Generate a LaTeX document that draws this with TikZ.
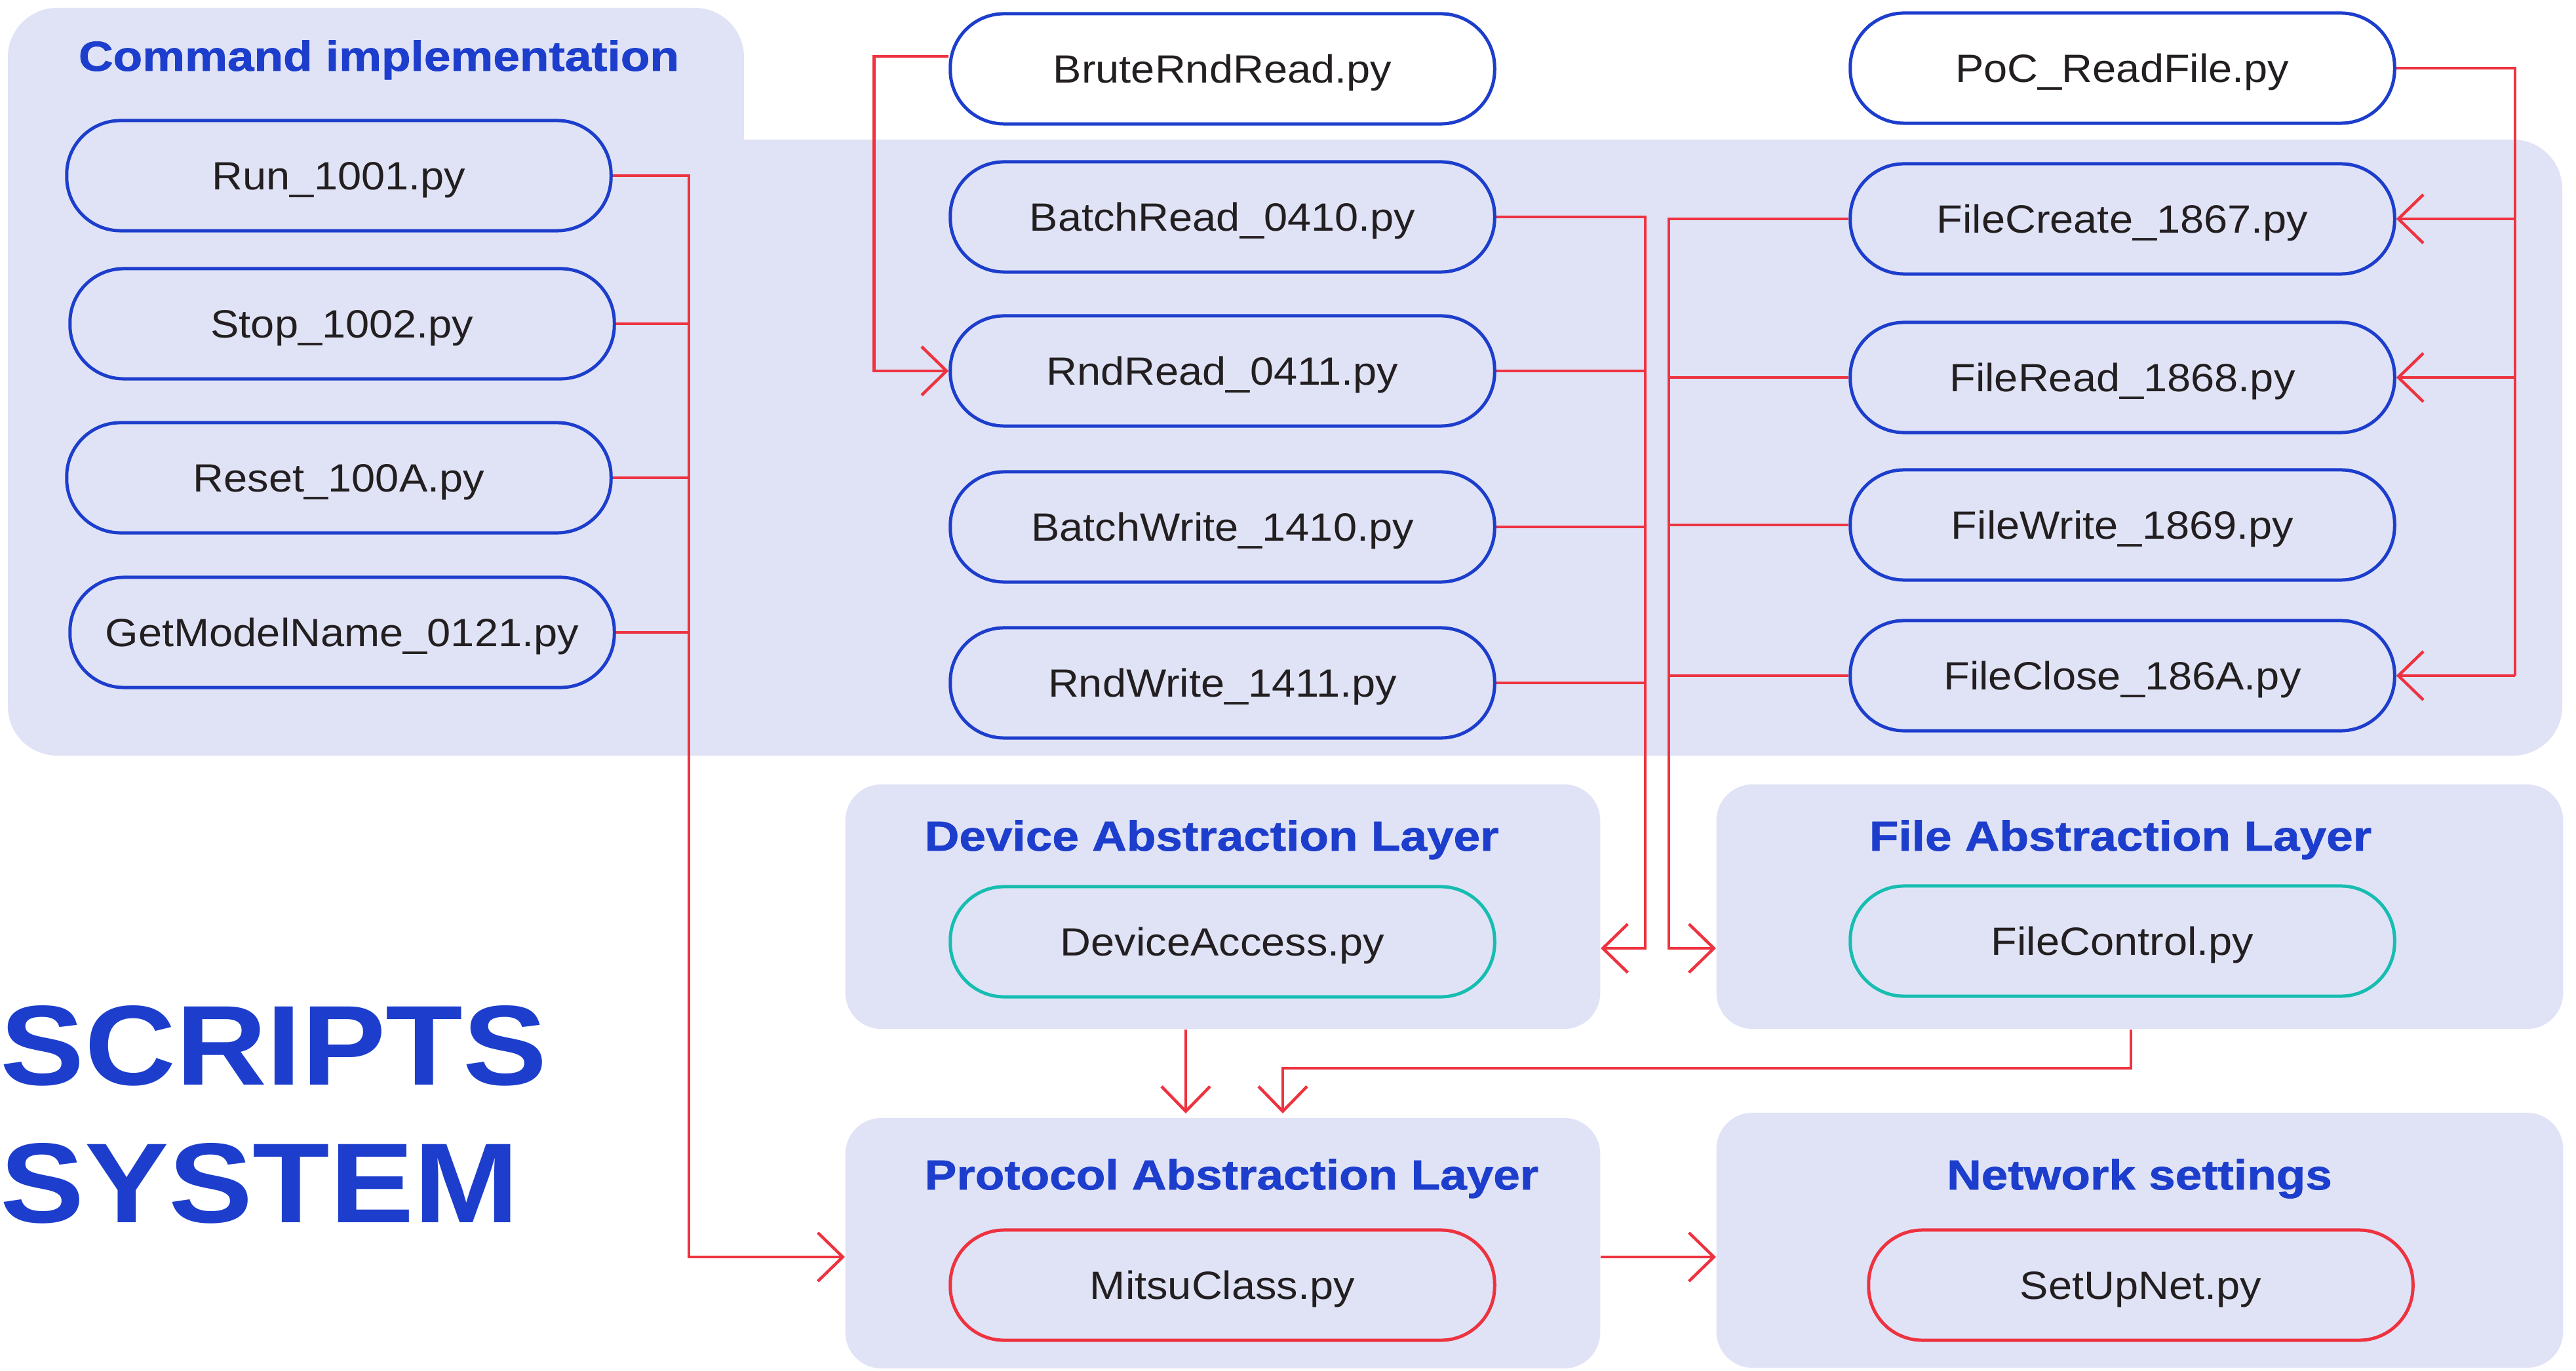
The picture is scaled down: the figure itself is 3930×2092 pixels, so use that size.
\documentclass[tikz,border=0pt]{standalone}
\usepackage{fontspec}
\usetikzlibrary{arrows.meta}

\newfontfamily\pillfont[FakeStretch=1.08]{Liberation Sans}
\newfontfamily\headfont[FakeStretch=1.14,FakeBold=1.2]{Liberation Sans}
\newfontfamily\bigfont[FakeStretch=1.11]{Liberation Sans}

\definecolor{panelfill}{RGB}{224,227,246}
\definecolor{inkblue}{RGB}{29,62,204}
\definecolor{tealline}{RGB}{23,189,176}
\definecolor{wirered}{RGB}{238,51,64}
\definecolor{ink}{RGB}{35,31,32}

\tikzset{
  pill/.style={draw=inkblue, line width=0.05cm, rounded corners=0.82cm,
    minimum width=8.3cm, minimum height=1.68cm, fill=panelfill, text=ink,
    font={\pillfont\fontsize{17.1pt}{20pt}\selectfont},
    text height=12.2pt, text depth=0pt, inner sep=0pt},
  whitepill/.style={pill, fill=white},
  tealpill/.style={pill, draw=tealline},
  redpill/.style={pill, draw=wirered},
  panelbox/.style={fill=panelfill, rounded corners=0.55cm, inner sep=0pt},
  headtitle/.style={text=inkblue, inner sep=0pt,
    font={\headfont\bfseries\fontsize{18.2pt}{22pt}\selectfont}},
  bigtitle/.style={text=inkblue, inner sep=0pt, anchor=base west,
    font={\bigfont\bfseries\fontsize{49.3pt}{60pt}\selectfont}},
  wire/.style={draw=wirered, line width=0.045cm},
  >={Straight Barb[length=0.38cm,width=0.74cm]}
}

\begin{document}
\begin{tikzpicture}[x=0.01cm, y=-0.01cm]
\useasboundingbox (0,0) rectangle (3930,2092);

% Command implementation panel: tab plus body
\fill[panelfill, rounded corners=0.75cm] (12,12) rectangle (1135,420);
\fill[panelfill, rounded corners=0.75cm] (12,213) rectangle (3909,1153);
\node[headtitle, anchor=base] (cmdtitle) at (578,108) {Command implementation};

% Layer panels
\node[panelbox, minimum width=11.51cm, minimum height=3.73cm] (devpanel) at (1865.5,1383.5) {};
\node[panelbox, minimum width=12.91cm, minimum height=3.73cm] (filepanel) at (3264.5,1383.5) {};
\node[panelbox, minimum width=11.51cm, minimum height=3.82cm] (protopanel) at (1865.5,1897) {};
\node[panelbox, minimum width=12.91cm, minimum height=3.89cm] (netpanel) at (3264.5,1892.5) {};

\node[headtitle, anchor=base west] (devtitle) at (1410,1298) {Device Abstraction Layer};
\node[headtitle, anchor=base west] (prototitle) at (1410,1815) {Protocol Abstraction Layer};
\node[headtitle, anchor=base] (filetitle) at (3235,1298) {File Abstraction Layer};
\node[headtitle, anchor=base] (nettitle) at (3264,1815) {Network settings};

% Big heading
\node[bigtitle] (scripts) at (0,1655) {SCRIPTS};
\node[bigtitle] (system) at (0,1865) {SYSTEM};

% Command scripts
\node[pill] (run) at (517,268) {Run\_1001.py};
\node[pill] (stop) at (522,494) {Stop\_1002.py};
\node[pill] (reset) at (517,729) {Reset\_100A.py};
\node[pill] (model) at (522,965) {GetModelName\_0121.py};

\node[whitepill] (brute) at (1865,105) {BruteRndRead.py};
\node[pill] (batchread) at (1865,331) {BatchRead\_0410.py};
\node[pill] (rndread) at (1865,566) {RndRead\_0411.py};
\node[pill] (batchwrite) at (1865,804) {BatchWrite\_1410.py};
\node[pill] (rndwrite) at (1865,1042) {RndWrite\_1411.py};

\node[whitepill] (poc) at (3238,104) {PoC\_ReadFile.py};
\node[pill] (filecreate) at (3238,334) {FileCreate\_1867.py};
\node[pill] (fileread) at (3238,576) {FileRead\_1868.py};
\node[pill] (filewrite) at (3238,801) {FileWrite\_1869.py};
\node[pill] (fileclose) at (3238,1031) {FileClose\_186A.py};

% Layer modules
\node[tealpill] (devaccess) at (1865,1437) {DeviceAccess.py};
\node[tealpill] (filectl) at (3238,1436) {FileControl.py};
\node[redpill] (mitsu) at (1865,1961) {MitsuClass.py};
\node[redpill] (setupnet) at (3266,1961) {SetUpNet.py};

% Bus junctions
\coordinate (busL) at (1051,1918);
\coordinate (busD) at (2510,1447);
\coordinate (busF) at (2546,1447);
\coordinate (busP) at (3837,1031);
\coordinate (jog) at (1957,1630);
\coordinate (protoIn1) at (1809,1699);
\coordinate (protoIn2) at (1957,1699);

% Command scripts -> protocol layer
\draw[wire,->] (run.east) -| (busL) -- (busL -| protopanel.west);
\foreach \n in {stop,reset,model}
  \draw[wire] (\n.east) -- (\n.east -| busL);

% BruteRndRead -> RndRead
\draw[wire,->] ([yshift=0.19cm]brute.west) -- ++(-114,0) |- (rndread.west);

% Device access scripts -> device layer
\draw[wire,->] (batchread.east) -| (busD) -- (busD -| devpanel.east);
\foreach \n in {rndread,batchwrite,rndwrite}
  \draw[wire] (\n.east) -- (\n.east -| busD);

% File scripts -> file layer
\draw[wire,->] (filecreate.west) -| (busF) -- (busF -| filepanel.west);
\foreach \n in {fileread,filewrite,fileclose}
  \draw[wire] (\n.west) -- (\n.west -| busF);

% PoC_ReadFile -> file scripts
\draw[wire] (poc.east) -| (busP);
\draw[wire,->] (busP |- filecreate.east) -- (filecreate.east);
\draw[wire,->] (busP |- fileread.east) -- (fileread.east);
\draw[wire,->] (busP) -- (fileclose.east);

% Layers -> protocol layer
\draw[wire,->] (devpanel.south -| protoIn1) -- (protoIn1);
\draw[wire,->] ([xshift=-0.135cm]filepanel.south) |- (jog) -- (protoIn2);

% Protocol layer -> network settings
\draw[wire,->] (busL -| protopanel.east) -- (busL -| netpanel.west);
\end{tikzpicture}
\end{document}
